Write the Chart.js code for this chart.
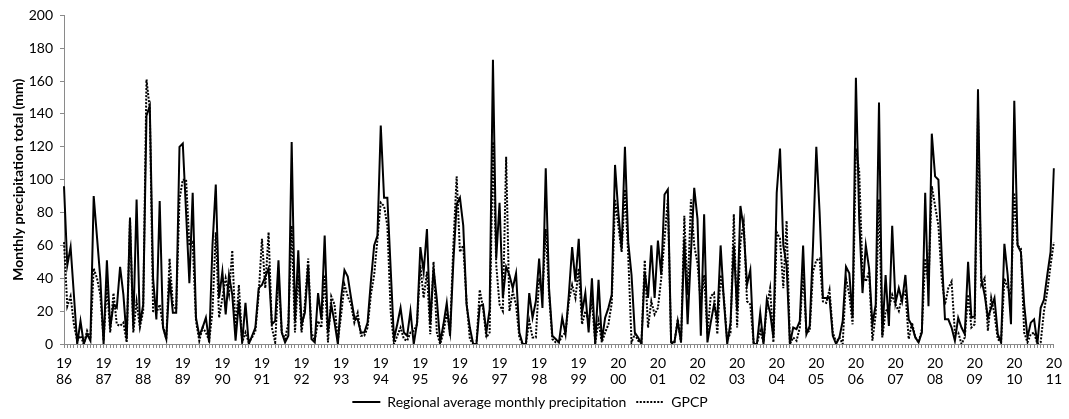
<!DOCTYPE html>
<html>
<head>
<meta charset="utf-8">
<script src="https://cdn.jsdelivr.net/npm/chart.js@4.4.1/dist/chart.umd.min.js"></script>
<style>
  html, body { margin: 0; padding: 0; background: #ffffff; }
  #wrap { width: 1069px; height: 419px; }
</style>
</head>
<body>
<div id="wrap"><canvas id="c" width="1069" height="419"></canvas></div>
<script>
// Tick labels (one per January, 1986 .. 2011)
const yearLabels = ['1986','1987','1988','1989','1990','1991','1992','1993','1994','1995','1996','1997','1998','1999','2000','2001','2002','2003','2004','2005','2006','2007','2008','2009','2010','2011'];

// Regional average monthly precipitation (mm), Jan 1986 .. Jan 2011
const regionalAvg = [
  96,48,59,30,0,14,0,6,2,90,65,40,
  0,51,10,24,22,47,30,3,77,10,88,12,
  24,139,145,40,15,87,10,3,40,19,19,120,
  122,80,37,92,16,5,10,16,1,60,97,28,
  44,18,42,30,2,26,1,25,0,5,10,34,
  36,41,46,12,14,51,7,1,5,123,14,57,
  12,19,48,3,1,31,15,66,7,24,13,0,
  28,45,41,28,16,15,7,7,13,38,60,66,
  133,89,89,46,3,12,22,7,5,20,0,13,
  59,44,70,12,46,27,1,12,25,5,50,85,
  89,72,24,10,0,0,23,24,7,21,173,52,
  86,28,47,42,34,43,7,0,0,31,16,26,
  52,22,107,34,5,3,1,16,6,30,59,38,
  64,19,31,7,40,0,39,2,16,22,30,109,
  80,58,120,62,42,7,4,0,44,28,60,28,
  63,42,91,94,1,1,14,1,64,12,55,95,
  76,5,79,1,13,24,15,60,26,0,13,60,
  20,84,70,36,45,0,0,19,0,27,19,4,
  92,119,60,48,0,10,9,14,60,6,11,60,
  120,80,28,28,28,5,0,4,14,47,43,16,
  162,76,31,60,46,12,24,147,5,42,11,72,
  25,34,26,42,15,11,4,1,7,92,23,128,
  102,100,54,15,15,10,2,16,10,6,50,16,
  17,155,40,30,16,22,28,6,1,61,42,12,
  148,60,56,24,4,13,15,0,22,27,42,56,
  107
];

// GPCP monthly precipitation (mm), Jan 1986 .. Jan 2011
const gpcp = [
  62,23,29,12,2,5,0,8,3,46,40,30,
  2,36,7,31,12,11,13,1,76,7,26,10,
  20,161,143,20,19,24,11,3,52,24,21,88,
  100,100,60,62,14,2,10,7,2,20,68,16,
  28,40,30,57,7,36,1,7,1,4,8,30,
  64,34,68,10,1,40,7,3,13,72,7,42,
  7,24,52,7,2,14,10,42,1,29,24,2,
  18,36,29,24,13,19,5,5,10,30,42,64,
  86,84,72,20,0,5,10,3,2,7,8,12,
  48,28,44,6,50,7,0,7,19,7,60,102,
  56,60,26,3,0,0,33,22,4,7,123,48,
  24,20,114,20,32,24,4,0,0,14,4,4,
  40,30,70,30,3,1,1,5,7,26,36,28,
  46,12,20,14,26,1,14,1,7,12,25,88,
  72,56,94,54,1,6,2,1,51,10,26,18,
  22,40,64,88,0,1,15,1,78,30,88,60,
  49,24,42,6,29,31,6,42,28,2,7,79,
  10,62,74,26,24,1,0,8,1,23,34,1,
  68,64,34,75,0,4,2,10,44,7,8,44,
  51,52,26,25,33,7,1,4,0,40,30,12,
  119,105,44,38,44,2,18,88,4,20,22,30,
  24,20,29,32,3,13,4,1,9,52,36,96,
  84,72,40,24,34,38,7,7,0,4,30,10,
  12,140,36,40,8,28,18,3,1,40,34,30,
  92,60,58,7,1,6,7,0,1,20,32,48,
  62
];

const seriesNames = ['Regional average monthly precipitation', 'GPCP'];
const yTicksMin = 0, yTicksMax = 200, yTickStep = 20;

// Month categories built from the year labels (12 per year, plus Jan of final year)
const categories = [];
yearLabels.forEach((y, k) => {
  const nMonths = (k === yearLabels.length - 1) ? 1 : 12;
  for (let m = 0; m < nMonths; m++) categories.push(y + '-' + (m + 1));
});

const FONT = "Lato, 'Open Sans', sans-serif";
const AXIS = '#8a8a8a';

new Chart(document.getElementById('c'), {
  type: 'line',
  data: {
    labels: categories,
    datasets: [
      {
        label: seriesNames[0],
        data: regionalAvg,
        borderColor: '#000000',
        backgroundColor: '#000000',
        borderWidth: 2,
        pointRadius: 0,
        pointHoverRadius: 0,
        tension: 0,
        fill: false
      },
      {
        label: seriesNames[1],
        data: gpcp,
        borderColor: '#000000',
        backgroundColor: '#000000',
        borderWidth: 2,
        borderDash: [2, 1.5],
        pointRadius: 0,
        pointHoverRadius: 0,
        tension: 0,
        fill: false
      }
    ]
  },
  options: {
    responsive: false,
    devicePixelRatio: 1,
    animation: false,
    layout: { padding: { left: 0, right: 9, top: 15, bottom: 0 } },
    plugins: {
      tooltip: { enabled: false },
      legend: {
        position: 'bottom',
        align: 'center',
        labels: {
          usePointStyle: true,
          pointStyle: 'line',
          pointStyleWidth: 28,
          boxHeight: 14,
          color: '#000000',
          padding: 10,
          font: { family: FONT, size: 14 },
          generateLabels: function (chart) {
            const items = Chart.defaults.plugins.legend.labels.generateLabels(chart);
            items.forEach(function (it) {
              const ds = chart.data.datasets[it.datasetIndex];
              it.lineDash = ds.borderDash ? ds.borderDash.slice() : [];
              it.lineWidth = 2;
              it.strokeStyle = '#000000';
              it.pointStyle = 'line';
            });
            return items;
          }
        }
      }
    },
    scales: {
      x: {
        type: 'category',
        offset: false,
        grid: { display: true, drawOnChartArea: false, drawTicks: true, tickLength: 4, color: AXIS, lineWidth: 1 },
        border: { display: true, color: AXIS, width: 1 },
        ticks: {
          autoSkip: false,
          maxRotation: 0,
          minRotation: 0,
          padding: 7,
          color: '#000000',
          font: { family: FONT, size: 14, lineHeight: 1.15 },
          callback: function (val, idx) {
            if (idx % 12 !== 0) return '';
            const y = yearLabels[idx / 12];
            return [y.slice(0, 2), y.slice(2)];
          }
        },
        afterFit: function (s) { s.height = 41; }
      },
      y: {
        min: yTicksMin,
        max: yTicksMax,
        grid: { display: true, drawOnChartArea: false, drawTicks: true, tickLength: 4, color: AXIS, lineWidth: 1 },
        border: { display: true, color: AXIS, width: 1 },
        ticks: {
          stepSize: yTickStep,
          padding: 7,
          color: '#000000',
          font: { family: FONT, size: 14 }
        },
        title: {
          display: true,
          text: 'Monthly precipitation total (mm)',
          color: '#000000',
          font: { family: FONT, size: 14, weight: 'bold' },
          padding: { top: 10, bottom: 0 }
        },
        afterFit: function (s) { s.width = 64; }
      }
    }
  }
});
</script>
</body>
</html>
